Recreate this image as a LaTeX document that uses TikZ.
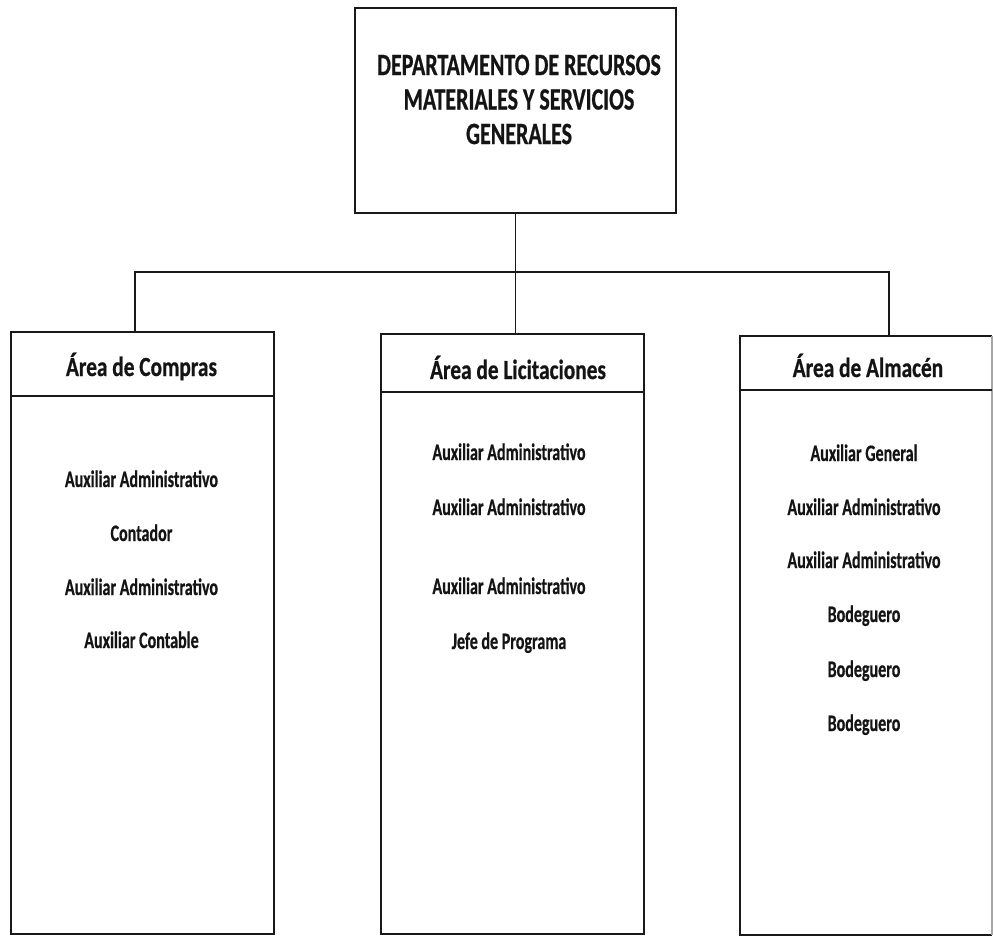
\documentclass[tikz,border=0pt]{standalone}
\usepackage{fontspec}
% Carlito (Calibri metrics), set narrow and heavy as in the printed chart
\newfontfamily\titlefont{Carlito}[FakeStretch=0.71, FakeBold=0.6]
\newfontfamily\areafont{Carlito}[FakeStretch=0.77, FakeBold=0.6]
\newfontfamily\postfont{Carlito}[FakeStretch=0.68, FakeBold=0.6]
\begin{document}
\begin{tikzpicture}[x=1pt,y=-1pt,
  frame/.style={draw=black!90, line width=1.9pt},
  link/.style={draw=black!90, line width=1.4pt},
  title/.style={font=\titlefont\bfseries\fontsize{31}{34.5}\selectfont,
    align=center, inner sep=0pt, text=black!92},
  area/.style={font=\areafont\bfseries\fontsize{27.7}{30}\selectfont,
    anchor=base, inner sep=0pt, text=black!92},
  post/.style={font=\postfont\bfseries\fontsize{23.6}{26}\selectfont,
    anchor=base, inner sep=0pt, text=black!92}]
\useasboundingbox (0,0) rectangle (993,936);

% department box
\node[frame, anchor=north west, minimum width=321pt, minimum height=205pt] (dept) at (354,7) {};
\node[title] (deptname) at (519,99.5)
  {DEPARTAMENTO DE RECURSOS\\MATERIALES Y SERVICIOS\\GENERALES};

% area boxes
\node[frame, anchor=north west, minimum width=263pt, minimum height=602pt] (compras) at (10,331) {};
\node[frame, anchor=north west, minimum width=263pt, minimum height=600pt] (licit) at (380,333) {};
\node[anchor=north west, minimum width=252pt, minimum height=599pt] (almacen) at (740,336) {};
\draw[frame] (almacen.north east) -- (almacen.north west) -- (almacen.south west) -- (almacen.south east);
\draw[frame, draw=black!35] (almacen.south east) -- (almacen.north east);

% header dividers
\draw[frame] (compras.west |- 0,396) -- (compras.east |- 0,396);
\draw[frame] (licit.west |- 0,392) -- (licit.east |- 0,392);
\draw[frame] (almacen.west |- 0,390) -- (almacen.east |- 0,390);

% connectors
\coordinate (jl) at (135,272);
\coordinate (jr) at (889,272);
\draw[link] (jl |- compras.north) -- (jl) -- (jr) -- (jr |- almacen.north);
\draw[link] (dept.south) -- (dept.south |- licit.north);

% headers
\node[area] (comprasT) at (141.5,376) {Área de Compras};
\node[area] (licitT) at (518,379) {Área de Licitaciones};
\node[area] (almacenT) at (868,377) {Área de Almacén};

% posts, Compras
\node[post] (c1) at (141.5,487) {Auxiliar Administrativo};
\node[post] (c2) at (141.5,541) {Contador};
\node[post] (c3) at (141.5,595) {Auxiliar Administrativo};
\node[post] (c4) at (141.5,648) {Auxiliar Contable};

% posts, Licitaciones
\node[post] (l1) at (509,460) {Auxiliar Administrativo};
\node[post] (l2) at (509,515) {Auxiliar Administrativo};
\node[post] (l3) at (509,594) {Auxiliar Administrativo};
\node[post] (l4) at (509,649) {Jefe de Programa};

% posts, Almacen
\node[post] (a1) at (864,461) {Auxiliar General};
\node[post] (a2) at (864,515) {Auxiliar Administrativo};
\node[post] (a3) at (864,568) {Auxiliar Administrativo};
\node[post] (a4) at (864,622) {Bodeguero};
\node[post] (a5) at (864,677) {Bodeguero};
\node[post] (a6) at (864,731) {Bodeguero};
\end{tikzpicture}
\end{document}
